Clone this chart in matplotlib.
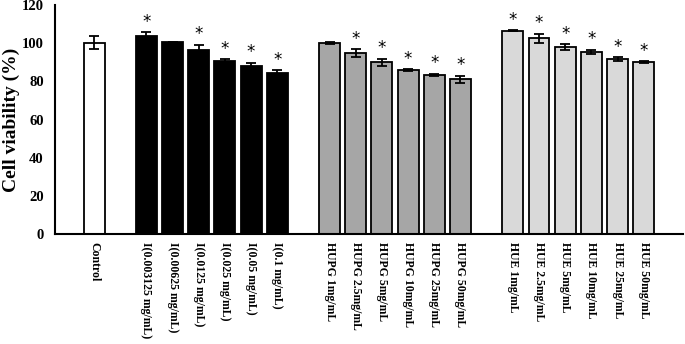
import matplotlib
matplotlib.use("Agg")
import matplotlib.pyplot as plt

# bar data
labels = ["Control",
          "I(0.003125 mg/mL)", "I(0.00625 mg/mL)", "I(0.0125 mg/mL)",
          "I(0.025 mg/mL)", "I(0.05 mg/mL)", "I(0.1 mg/mL)",
          "HUPG 1mg/mL", "HUPG 2.5mg/mL", "HUPG 5mg/mL",
          "HUPG 10mg/mL", "HUPG 25mg/mL", "HUPG 50mg/mL",
          "HUE 1mg/mL", "HUE 2.5mg/mL", "HUE 5mg/mL",
          "HUE 10mg/mL", "HUE 25mg/mL", "HUE 50mg/mL"]
positions = [0, 2, 3, 4, 5, 6, 7, 9, 10, 11, 12, 13, 14, 16, 17, 18, 19, 20, 21]
values = [100.2, 104.0, 100.6, 96.6, 90.9, 88.0, 84.6,
          100.0, 94.9, 90.0, 86.0, 83.6, 81.2,
          106.5, 102.6, 98.0, 95.5, 91.6, 90.0]
errors = [3.4, 1.9, 0.3, 2.6, 0.7, 1.7, 1.3,
          0.5, 2.0, 2.0, 0.3, 0.5, 1.8,
          0.3, 2.5, 1.5, 1.0, 1.0, 0.5]
significant = [False, True, False, True, True, True, True,
               False, True, True, True, True, True,
               True, True, True, True, True, True]
colors = ["white"] + ["black"] * 6 + ["#a6a6a6"] * 6 + ["#d9d9d9"] * 6

plt.rcParams["font.family"] = ["Liberation Serif", "DejaVu Serif"]
plt.rcParams["font.weight"] = "bold"

fig = plt.figure(figsize=(6.85, 3.44), dpi=100)
ax = fig.add_axes([0.080, 0.320, 0.917, 0.665])

ax.bar(positions, values, width=0.8, color=colors, edgecolor="black",
       linewidth=1.3, zorder=2)
ax.errorbar(positions, values, yerr=errors, fmt="none", ecolor="black",
            elinewidth=1.3, capsize=3.5, capthick=1.3, zorder=3)

for x, v, e, s in zip(positions, values, errors, significant):
    if s:
        ax.text(x, v + e + 0.8, "*", ha="center", va="bottom",
                fontsize=12, fontweight="normal", family="DejaVu Sans")

ax.set_xlim(-1.5, 22.5)
ax.set_ylim(0, 120)
ax.set_yticks(range(0, 121, 20))
ax.set_xticks(positions)
ax.set_xticklabels(labels, rotation=270, fontsize=8.5, fontweight="bold",
                   va="top", ha="center")
ax.tick_params(axis="both", length=0)
ax.tick_params(axis="y", labelsize=10.5, pad=8)
ax.tick_params(axis="x", pad=6)
for lbl in ax.get_yticklabels():
    lbl.set_fontweight("bold")

ax.set_ylabel("Cell viability (%)", fontsize=14, fontweight="bold", labelpad=1)

for side in ["top", "right"]:
    ax.spines[side].set_visible(False)
for side in ["left", "bottom"]:
    ax.spines[side].set_linewidth(1.5)

plt.savefig("out.png", dpi=100)
